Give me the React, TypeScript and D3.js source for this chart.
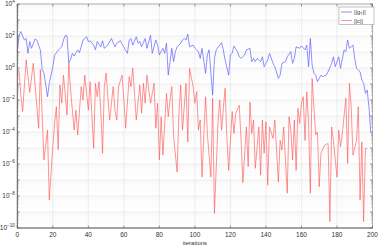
import * as d3 from 'd3';
import { useEffect } from 'react';

// iterations at which each curve changes direction, and its value there
const gIter = [0, 1, 2, 3, 4, 5, 6, 7, 8, 10, 11, 13, 14, 15, 17, 18, 20, 21, 23, 25, 26, 27, 28, 29, 30, 31, 32, 34, 35, 37, 39, 40, 41, 43, 44, 45, 47, 48, 49, 51, 53, 55, 56, 58, 60, 62, 63, 64, 65, 67,
  68, 69, 70, 72, 73, 75, 76, 78, 79, 80, 82, 83, 84, 85, 87, 88, 89, 90, 92, 93, 94, 95, 96, 97, 99, 100, 102, 103, 104, 106, 107, 108, 110, 111, 112, 114, 115, 116, 117, 119, 120, 121, 122, 124, 125, 126, 128, 129, 131, 132, 133, 134,
  135, 137, 138, 139, 141, 142, 144, 145, 147, 148, 149, 151, 152, 154, 155, 156, 157, 159, 160, 162, 163, 164, 165, 166, 167, 168, 169, 171, 172, 174, 175, 177, 178, 179, 181, 182, 184, 185, 186, 187, 189, 190, 191, 192, 193, 194, 195, 196, 197, 198, 199];
const gNorm = [1.0e1, 1.1e2, 1.9e2, 1.0e2, 5.6e1, 7.0e1, 8.3e0, 4.5e1, 1.7e1, 6.5e1, 5.6e1, 1.3e1, 8.0e-1, 5.0e-1, 1.6e-2, 1.1e-1, 1.2e0, 6.3e0, 1.3e1, 2.1e1, 5.6e1, 1.1e2, 1.0e2, 2.0e0, 3.5e0, 8.3e0, 5.6e0, 1.35e1, 9.0e0, 5.6e1, 9.0e1, 4.5e1, 5.0e1, 2.7e1, 1.35e1, 4.5e1, 2.1e1, 5.0e1, 1.7e1, 2.7e1, 7.0e1, 2.1e1, 3.5e1, 5.0e1, 2.0e1, 8.3e0, 5.6e1, 7.0e1, 2.7e1, 9.0e1,
  3.5e1, 4.5e1, 2.1e1, 7.0e1, 1.7e1, 1.1e2, 8.3e0, 5.6e1, 2.7e1, 6.5e0, 1.7e1, 8.3e0, 3.5e1, 3.6e-1, 1.7e1, 2.5e0, 1.05e1, 2.1e1, 3.5e1, 5.6e1, 7.0e1, 5.6e1, 1.3e2, 2.1e1, 2.7e1, 1.7e1, 1.05e1, 4.0e0, 1.7e1, 4.7e-1, 6.5e0, 1.35e1, 2.0e-2, 4.0e0, 1.35e1, 2.7e1, 3.8e1, 1.35e1, 3.2e0, 3.6e-1, 6.5e0, 8.3e0, 2.4e1, 1.05e1, 5.0e0, 4.0e0, 6.5e0, 1.35e1, 1.7e1, 2.5e0, 4.0e0, 2.5e0,
  4.0e0, 2.5e0, 5.0e0, 1.2e0, 3.2e0, 8.3e0, 1.95e0, 1.2e0, 2.2e-1, 3.6e-1, 1.95e0, 2.5e0, 5.0e0, 1.05e1, 1.95e0, 4.0e0, 2.1e1, 1.7e1, 2.4e1, 1.35e1, 2.7e1, 1.2e0, 7.0e1, 1.55e0, 4.7e-1, 3.6e-1, 1.4e-1, 3.6e-1, 2.9e-1, 3.6e-1, 5.9e-1, 1.95e0, 5.0e0, 1.2e0, 5.0e0, 9.5e-1, 1.35e1, 1.05e1, 5.6e1, 1.7e1, 2.7e1, 4.0e0, 9.5e-1, 7.4e-1, 5.9e-1, 1.8e-1, 1.1e-1, 2.6e-2, 4.2e-2, 3.8e-3, 1.05e-4];

const cIter = [0, 1, 2, 3, 5, 7, 9, 12, 13, 15, 17, 18, 20, 21, 22, 23, 24, 25, 26, 28, 29, 30, 32, 33, 34, 36, 37, 38, 40, 41, 43, 44, 45, 46, 47, 48, 49, 50, 52, 54, 55, 56, 57, 59, 60, 61, 63, 64, 65, 67,
  69, 70, 71, 72, 73, 75, 77, 78, 79, 80, 81, 82, 84, 85, 86, 87, 88, 90, 91, 92, 93, 95, 96, 97, 99, 100, 101, 102, 103, 104, 106, 107, 109, 110, 111, 113, 114, 115, 117, 118, 119, 121, 122, 123, 125, 126, 127, 129, 130, 131, 132, 133, 134,
  136, 137, 138, 139, 140, 141, 142, 144, 145, 147, 148, 149, 150, 152, 153, 154, 155, 156, 157, 158, 159, 160, 161, 162, 163, 164, 165, 166, 168, 169, 170, 171, 173, 175, 176, 177, 178, 180, 181, 182, 183, 185, 186, 187, 188, 189, 191, 192, 193, 194, 195, 196, 197];
const cNorm = [8.7e-1, 5.9e-1, 2.0e-2, 1.9e-3, 3.2e0, 3.0e-2, 2.0e0, 1.7e-4, 8.0e-1, 1.8e-6, 1.3e-4, 5.6e-9, 1.3e-5, 3.5e-4, 3.8e-3, 8.0e-6, 8.7e-2, 6.3e-3, 3.6e-1, 1.15e-3, 1.95e0, 4.2e-2, 1.3e-4, 2.3e-3, 6.5e-5, 6.8e-2, 1.0e-2, 3.6e-1, 2.3e-3, 1.4e-1, 9.5e-6, 1.1e-1, 1.6e-2, 1.4e-1, 2.3e-3, 4.7e-6, 6.8e-2, 4.7e-1, 5.6e-4, 6.8e-2, 2.3e-3, 5.6e-4, 6.8e-2, 3.6e-1, 1.0e-2, 1.7e-4, 2.9e-1, 6.8e-2, 1.0e0, 5.6e-4,
  8.7e-2, 1.5e-3, 1.1e-1, 6.3e-3, 3.6e-1, 6.3e-3, 1.1e-1, 1.7e-4, 6.3e-3, 1.8e-6, 9.0e-4, 3.6e-6, 2.6e-2, 9.0e-4, 1.0e-2, 6.8e-2, 5.0e-5, 3.2e-7, 1.5e-3, 8.7e-2, 1.3e-4, 1.1e-1, 2.4e-5, 9.5e-1, 6.8e-2, 6.3e-3, 3.3e-2, 1.3e-4, 5.6e-4, 1.5e-7, 1.6e-2, 8.0e-5, 1.5e-7, 1.3e-2, 8.3e-10, 3.5e-4, 1.0e-2, 1.3e-4, 5.4e-2, 5.0e-5, 4.0e-7, 1.9e-3, 8.0e-5, 1.5e-3, 4.7e-3, 3.0e-5, 6.8e-8, 2.1e-4, 6.8e-7, 7.5e-3, 8.0e-5, 5.6e-4, 5.4e-7,
  2.1e-4, 2.0e-7, 5.6e-4, 4.7e-6, 4.4e-4, 4.7e-8, 2.1e-4, 4.0e-5, 5.6e-4, 7.5e-8, 3.0e-5, 7.5e-6, 2.1e-4, 1.5e-8, 9.0e-4, 1.3e-4, 1.8e-6, 5.6e-4, 4.0e-7, 3.0e-3, 3.5e-4, 6.3e-3, 1.6e-2, 3.0e-5, 3.3e-2, 3.5e-4, 1.5e-8, 2.2e-1, 6.5e-5, 1.0e-4, 3.8e-8, 4.7e-6, 1.5e-5, 1.9e-5, 2.5e-10, 2.1e-4, 3.0e-5, 1.5e-7, 1.3e-4, 1.2e-5, 8.0e-5, 1.3e-2, 1.1e-6, 1.1e-1, 3.8e-3, 3.6e-6, 3.0e-5, 3.8e-3, 5.6e-9, 2.4e-5, 2.5e-10, 9.5e-6, 9.5e-6];

const xTicks = [0, 20, 40, 60, 80, 100, 120, 140, 160, 180, 200];
const yExponents = [4, 2, 0, -2, -4, -6, -8, -10];

const W = 381;
const H = 246;
const margin = { top: 4, right: 8.5, bottom: 18, left: 17.3 };
const font = '"Liberation Sans", Arial, sans-serif';
const blue = '#5a5aff';
const red = '#ff5555';

export default function App() {
  useEffect(() => {
    document.body.style.margin = '0';
  }, []);

  const x = d3.scaleLinear().domain([0, 200]).range([margin.left, W - margin.right]);
  const y = d3.scaleLog().domain([1e-10, 1e4]).range([H - margin.bottom, margin.top]);

  const x0 = x(0);
  const x1 = x(200);
  const y0 = y(1e-10);
  const y1 = y(1e4);

  const decades = d3.range(-10, 5);
  const minors: number[] = [];
  decades.slice(0, -1).forEach((e) => {
    for (let k = 2; k <= 9; k++) minors.push(k * 10 ** e);
  });

  const gPts = gIter.map((it, i) => [it, gNorm[i]] as [number, number]);
  const cPts = cIter.map((it, i) => [it, cNorm[i]] as [number, number]);
  const line = d3
    .line<[number, number]>()
    .x((d) => x(d[0]))
    .y((d) => y(d[1]));

  return (
    <svg width={W} height={H} style={{ display: 'block', background: '#fff' }} fontFamily={font}>
      {/* minor grid */}
      {minors.map((v) => (
        <line key={'m' + v} x1={x0} x2={x1} y1={y(v)} y2={y(v)} stroke="#efefef" strokeWidth={0.6} strokeDasharray="1,1" />
      ))}
      {/* major grid */}
      {decades.map((e) => (
        <line key={'d' + e} x1={x0} x2={x1} y1={y(10 ** e)} y2={y(10 ** e)} stroke="#e3e3e3" strokeWidth={0.6} />
      ))}
      {xTicks.map((t) => (
        <line key={'xg' + t} x1={x(t)} x2={x(t)} y1={y0} y2={y1} stroke="#e3e3e3" strokeWidth={0.6} />
      ))}

      {/* series */}
      <path d={line(cPts) ?? ''} fill="none" stroke={red} strokeOpacity={0.75} strokeWidth={0.85} />
      <path d={line(gPts) ?? ''} fill="none" stroke={blue} strokeOpacity={0.8} strokeWidth={0.85} />

      {/* frame */}
      <rect x={x0} y={y1} width={x1 - x0} height={y0 - y1} fill="none" stroke="#999" strokeWidth={0.7} />
      <line x1={x0} x2={x1} y1={y0} y2={y0} stroke="#555" strokeWidth={0.8} />
      <line x1={x0} x2={x0} y1={y0} y2={y1} stroke="#555" strokeWidth={0.8} />

      {/* y ticks */}
      {decades.map((e) => (
        <g key={'yt' + e}>
          <line x1={x0} x2={x0 + 2.5} y1={y(10 ** e)} y2={y(10 ** e)} stroke="#555" strokeWidth={0.6} />
          <line x1={x1} x2={x1 - 2.5} y1={y(10 ** e)} y2={y(10 ** e)} stroke="#555" strokeWidth={0.6} />
        </g>
      ))}
      {minors.map((v) => (
        <g key={'ym' + v}>
          <line x1={x0} x2={x0 + 1.3} y1={y(v)} y2={y(v)} stroke="#777" strokeWidth={0.5} />
          <line x1={x1} x2={x1 - 1.3} y1={y(v)} y2={y(v)} stroke="#777" strokeWidth={0.5} />
        </g>
      ))}
      {yExponents.map((e) => (
        <text key={'yl' + e} x={x0 - 2.5} y={y(10 ** e) + 2.2} textAnchor="end" fontSize={6.5} fill="#333">
          10
          <tspan dy={-2.8} fontSize={4.6}>
            {e < 0 ? '\u2212' + Math.abs(e) : e}
          </tspan>
        </text>
      ))}

      {/* x ticks */}
      {xTicks.map((t) => (
        <g key={'xt' + t}>
          <line x1={x(t)} x2={x(t)} y1={y0} y2={y0 - 2.5} stroke="#555" strokeWidth={0.6} />
          <line x1={x(t)} x2={x(t)} y1={y1} y2={y1 + 2.5} stroke="#555" strokeWidth={0.6} />
          <text x={x(t)} y={y0 + 9} textAnchor="middle" fontSize={6.5} fill="#333">
            {t}
          </text>
        </g>
      ))}
      <text x={(x0 + x1) / 2} y={H - 1.5} textAnchor="middle" fontSize={6} fill="#333">
        iterations
      </text>

      {/* legend */}
      <g>
        <rect x={339} y={7} width={35} height={17.5} fill="#fff" stroke="#999" strokeWidth={0.6} />
        <line x1={341} x2={352} y1={12} y2={12} stroke={blue} strokeOpacity={0.8} strokeWidth={0.85} />
        <text x={354} y={14} fontSize={5.8} fill="#333">
          ||g
          <tspan dy={1.3} fontSize={4}>T</tspan>
          <tspan dy={-1.3}>||</tspan>
        </text>
        <line x1={341} x2={352} y1={20.5} y2={20.5} stroke={red} strokeOpacity={0.75} strokeWidth={0.85} />
        <text x={354} y={22.5} fontSize={5.8} fill="#333">
          ||c||
        </text>
      </g>
    </svg>
  );
}
